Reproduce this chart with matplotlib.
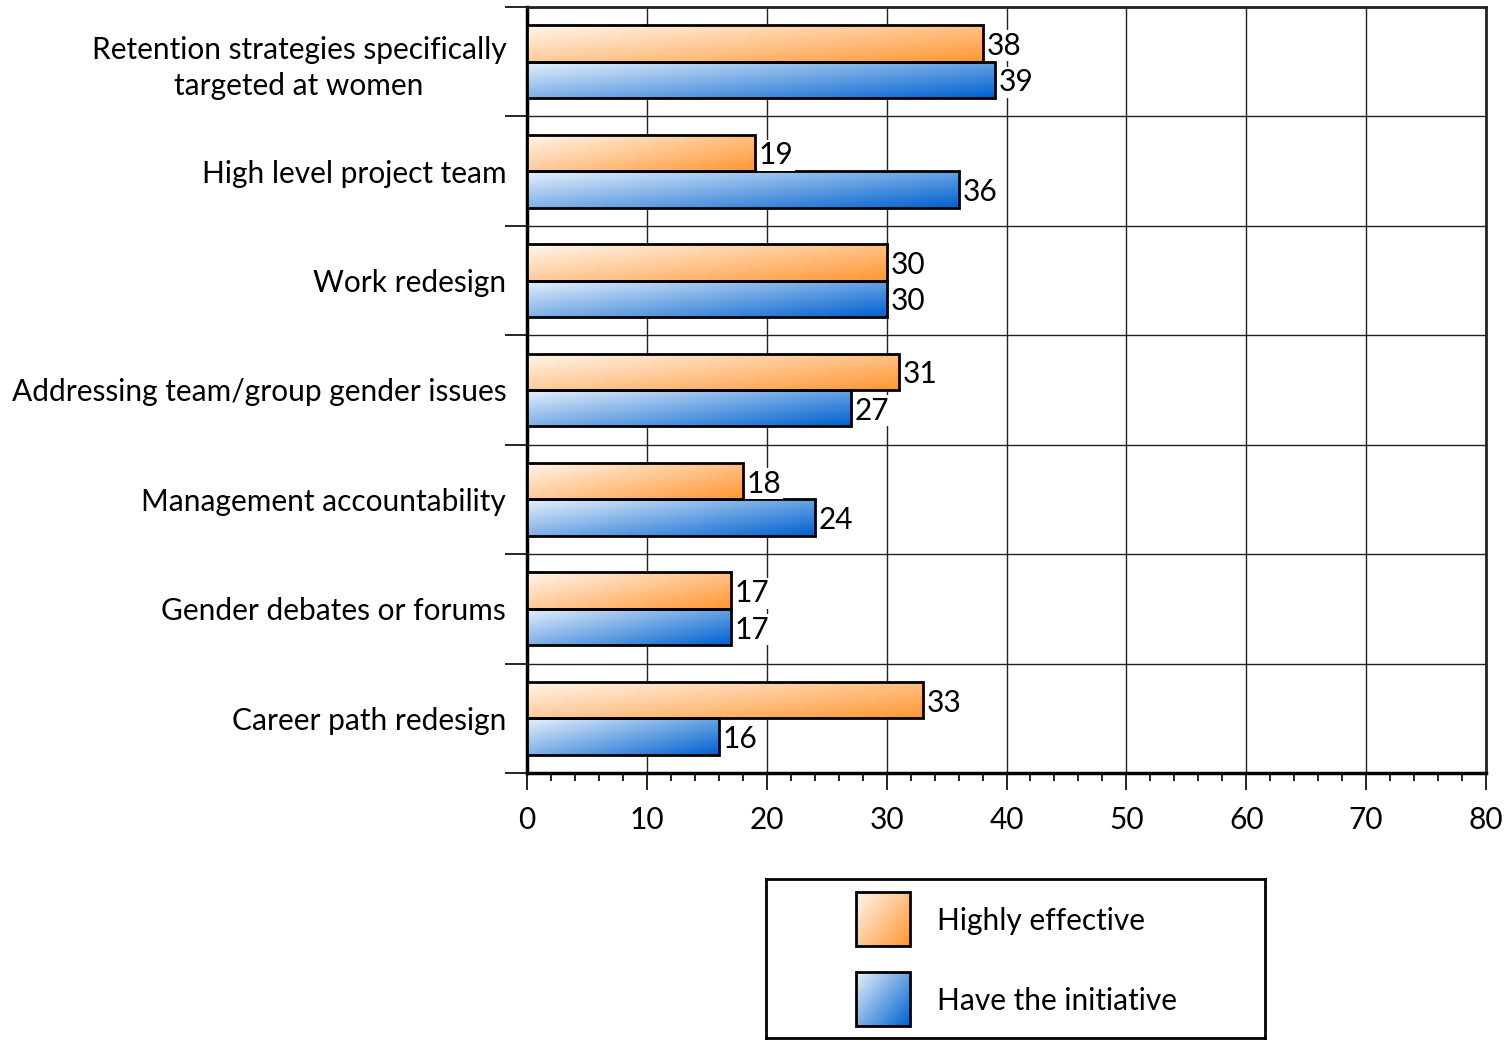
import numpy as np
import matplotlib
matplotlib.use("Agg")
import matplotlib.pyplot as plt
from matplotlib.patches import Rectangle
from matplotlib.colors import to_rgb

plt.rcParams['font.family'] = ['Lato', 'DejaVu Sans']

categories = [
    "Retention strategies specifically\ntargeted at women",
    "High level project team",
    "Work redesign",
    "Addressing team/group gender issues",
    "Management accountability",
    "Gender debates or forums",
    "Career path redesign",
]
series_names = ["Highly effective", "Have the initiative"]
highly_effective = [38, 19, 30, 31, 18, 17, 33]
have_initiative = [39, 36, 30, 27, 24, 17, 16]

ORANGE = ("#FFF6EE", "#FF9733")
BLUE = ("#E8F1FB", "#0062D0")

FS = 21.5


def gradient_rgb(light, dark, nx=120, ny=40):
    u = np.linspace(0, 1, nx)[None, :]
    v = np.linspace(0, 1, ny)[:, None]
    t = np.clip(0.55 * u + 0.45 * v, 0, 1)[..., None]
    a = np.array(to_rgb(light))
    b = np.array(to_rgb(dark))
    return a + t * (b - a)


def gradient_bar(ax, x0, x1, y0, y1, colors, lw=2.0):
    # y0 is the visual top (axis inverted)
    rect = Rectangle((x0, y0), x1 - x0, y1 - y0, facecolor="none",
                     edgecolor="black", linewidth=lw, zorder=4)
    ax.add_patch(rect)
    img = gradient_rgb(*colors)
    im = ax.imshow(img, extent=(x0, x1, y1, y0), origin="upper",
                   aspect="auto", interpolation="bilinear", zorder=3)
    clip = Rectangle((x0, y0), x1 - x0, y1 - y0, transform=ax.transData,
                     facecolor="none", edgecolor="none")
    im.set_clip_path(clip)


fig = plt.figure(figsize=(15.06, 10.40), dpi=100)
ax = fig.add_axes([527 / 1506, 1 - 773 / 1040, (1486 - 527) / 1506, (773 - 7) / 1040])

n = len(categories)
h = 1.0 / 3.0
for i in range(n):
    gradient_bar(ax, 0, highly_effective[i], i - h, i, ORANGE)
    gradient_bar(ax, 0, have_initiative[i], i, i + h, BLUE)
    for val, yc in ((highly_effective[i], i - h / 2), (have_initiative[i], i + h / 2)):
        ax.text(val + 0.35, yc, f"{val}", ha="left", va="center_baseline", fontsize=FS,
                zorder=6, bbox=dict(facecolor="white", edgecolor="none", pad=1.0))

ax.set_xlim(0, 80)
ax.set_ylim(n - 0.5, -0.5)
ax.set_aspect("auto")

# gridlines: vertical every 10, horizontal at category boundaries
ax.set_xticks(np.arange(0, 81, 10))
ax.set_xticks(np.arange(0, 81, 2), minor=True)
ax.set_yticks(np.arange(-0.5, n, 1.0))
ax.set_yticklabels([])
ax.set_yticks(np.arange(n), minor=True)
ax.set_yticklabels(categories, minor=True, fontsize=FS, multialignment="center",
                   linespacing=1.35)
ax.grid(True, which="major", color="#222222", linewidth=1.0, zorder=0)
ax.set_axisbelow(True)

ax.tick_params(axis="x", which="major", direction="out", length=12, width=1.2,
               labelsize=FS, pad=12)
ax.tick_params(axis="x", which="minor", direction="out", length=6, width=1.2)
ax.tick_params(axis="y", which="major", direction="out", length=16, width=1.2)
ax.tick_params(axis="y", which="minor", length=0, pad=15)

for side in ("left", "bottom"):
    ax.spines[side].set_linewidth(2.5)
for side in ("top", "right"):
    ax.spines[side].set_linewidth(2.0)
    ax.spines[side].set_color("#222222")

# legend box
lax = fig.add_axes([766 / 1506, 2 / 1040, 499 / 1506, 159 / 1040])
lax.set_xlim(0, 499)
lax.set_ylim(159, 0)
lax.set_xticks([])
lax.set_yticks([])
for s in lax.spines.values():
    s.set_linewidth(2.0)
for k, (name, cols) in enumerate(zip(series_names, (ORANGE, BLUE))):
    y0 = 13 + 80 * k
    gradient_bar(lax, 90, 144, y0, y0 + 54, cols, lw=2.0)
    lax.text(171, y0 + 29, name, ha="left", va="center", fontsize=FS)

fig.savefig("out.png", dpi=100)
